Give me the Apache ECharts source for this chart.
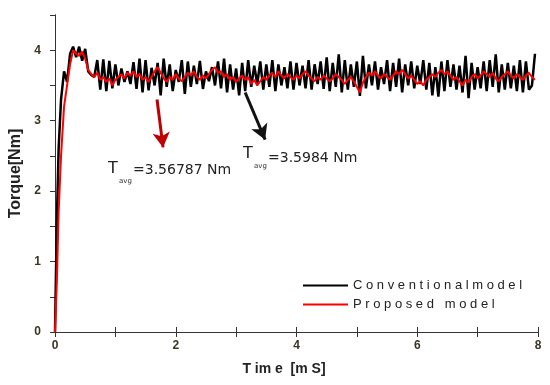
<!DOCTYPE html>
<html><head><meta charset="utf-8">
<script src="https://cdn.jsdelivr.net/npm/echarts@6/dist/echarts.min.js"></script>
<style>html,body{margin:0;padding:0;background:#fff}#c{width:550px;height:385px}</style>
</head><body><div id="c"></div>
<script>
const time = [0, 0.03, 0.06, 0.1, 0.15, 0.2, 0.25, 0.3, 0.35, 0.4, 0.45, 0.5, 0.55,
 0.6,0.65,0.7,0.75,0.8,0.85,0.9,0.95,1.0,1.05,1.1,1.15,1.2,1.25,1.3,1.35,1.4,1.45,1.5,1.55,
 1.6,1.65,1.7,1.75,1.8,1.85,1.9,1.95,2.0,2.05,2.1,2.15,2.2,2.25,2.3,2.35,2.4,2.45,2.5,2.55,
 2.6,2.65,2.7,2.75,2.8,2.85,2.9,2.95,3.0,3.05,3.1,3.15,3.2,3.25,3.3,3.35,3.4,3.45,3.5,3.55,
 3.6,3.65,3.7,3.75,3.8,3.85,3.9,3.95,4.0,4.05,4.1,4.15,4.2,4.25,4.3,4.35,4.4,4.45,4.5,4.55,
 4.6,4.65,4.7,4.75,4.8,4.85,4.9,4.95,5.0,5.05,5.1,5.15,5.2,5.25,5.3,5.35,5.4,5.45,5.5,5.55,
 5.6,5.65,5.7,5.75,5.8,5.85,5.9,5.95,6.0,6.05,6.1,6.15,6.2,6.25,6.3,6.35,6.4,6.45,6.5,6.55,
 6.6,6.65,6.7,6.75,6.8,6.85,6.9,6.95,7.0,7.05,7.1,7.15,7.2,7.25,7.3,7.35,7.4,7.45,7.5,7.55,
 7.6,7.65,7.7,7.75,7.8,7.85,7.9,7.95];

const conventional = [0, 1.55, 2.6, 3.3, 3.7, 3.55, 3.95, 4.05, 3.9, 4.05, 3.85, 4.02, 3.7,
 3.65,3.62,
 3.86,3.44, 3.87,3.42, 3.85,3.46, 3.80,3.50, 3.74,3.55, 3.70,3.52, 3.83,3.45, 3.88,3.40, 3.86,3.43,
 3.75,3.50, 3.82,3.36, 3.88,3.48, 3.80,3.42, 3.72,3.55, 3.86,3.38, 3.84,3.48, 3.78,3.52, 3.85,3.45,
 3.70,3.56, 3.76,3.50, 3.84,3.46, 3.88,3.40, 3.80,3.44, 3.74,3.36, 3.82,3.42, 3.86,3.48, 3.78,3.52,
 3.84,3.44, 3.80,3.48, 3.86,3.42, 3.80,3.50, 3.76,3.46, 3.84,3.44, 3.82,3.50, 3.78,3.46, 3.86,3.44,
 3.80,3.52, 3.84,3.45, 3.90,3.42, 3.82,3.48, 3.94,3.40, 3.86,3.44, 3.80,3.48, 3.84,3.35, 3.92,3.46,
 3.80,3.50, 3.84,3.44, 3.76,3.52, 3.86,3.42, 3.82,3.48, 3.88,3.40, 3.80,3.50, 3.84,3.46, 3.78,3.52,
 3.86,3.44, 3.82,3.36, 3.76,3.34, 3.84,3.42, 3.86,3.48, 3.80,3.44, 3.78,3.40, 3.92,3.32, 3.82,3.44,
 3.76,3.46, 3.84,3.42, 3.86,3.48, 3.94,3.40, 3.80,3.44, 3.82,3.46, 3.78,3.42, 3.86,3.40, 3.84,3.44,
 3.50,3.95];

const proposed = [0, 0.7, 1.7, 2.5, 3.2, 3.5, 3.8, 4.0, 3.95, 3.92, 3.98, 3.88, 3.72,
 3.66,3.62,3.68,3.58,3.62,3.55,3.60,3.50,3.58,3.62,
 3.66,3.60,3.68,3.64,3.70,3.62,3.66,3.58,3.62,3.55,
 3.62,3.70,3.76,3.68,3.60,3.55,3.62,3.58,3.66,3.60,
 3.56,3.62,3.68,3.64,3.70,3.62,3.58,3.64,3.60,3.66,
 3.72,3.76,3.68,3.70,3.62,3.66,3.58,3.62,3.55,3.60,
 3.64,3.58,3.62,3.52,3.58,3.50,3.56,3.62,3.58,3.64,
 3.68,3.62,3.70,3.64,3.60,3.66,3.62,3.58,3.64,3.60,
 3.66,3.70,3.64,3.60,3.56,3.62,3.58,3.64,3.60,3.56,
 3.60,3.66,3.62,3.58,3.52,3.58,3.62,3.56,3.48,3.40,
 3.54,3.62,3.68,3.64,3.70,3.64,3.60,3.66,3.62,3.58,
 3.64,3.70,3.66,3.72,3.66,3.60,3.64,3.58,3.52,3.56,
 3.50,3.58,3.62,3.66,3.62,3.68,3.72,3.66,3.70,3.64,
 3.58,3.62,3.56,3.50,3.58,3.54,3.62,3.66,3.60,3.64,
 3.70,3.66,3.62,3.68,3.60,3.56,3.62,3.66,3.70,3.64,
 3.60,3.66,3.62,3.58,3.64,3.68,3.62,3.58];

const xTicks = [0, 2, 4, 6, 8];
const yTicks = [0, 1, 2, 3, 4];
const seriesNames = ['C o n v e n t i o n a l m o d e l', 'P r o p o s e d   m o d e l'];
const annotations = [
  {value: '=3.56787 Nm', color: '#c00000', from: [1.69, 3.30], to: [1.79, 2.62]},
  {value: '=3.5984 Nm', color: '#111111', from: [3.15, 3.40], to: [3.48, 2.73]}
];

const chart = echarts.init(document.getElementById('c'), null, {renderer: 'canvas'});
const pairs = vals => time.map((t, i) => [t, vals[i]]);
const labelFont = {fontFamily: 'Liberation Sans', fontWeight: 'bold', fontSize: 12, color: '#3a3525'};
const axisLine = {show: true, lineStyle: {color: '#333', width: 1}};

function arrowLine(a) {
  return {
    silent: true, symbol: ['none', 'arrow'], symbolSize: [13, 15],
    label: {show: false},
    lineStyle: {color: a.color, width: 3, type: 'solid'},
    data: [[{coord: a.from}, {coord: a.to}]]
  };
}

chart.setOption({
  animation: false,
  grid: {left: 55, right: 12, top: 15, bottom: 53, containLabel: false, outerBoundsMode: 'none'},
  xAxis: [{
    type: 'value', min: 0, max: 8, interval: 1,
    name: 'T im e  [m S]', nameLocation: 'middle', nameGap: 30,
    nameTextStyle: {fontFamily: 'Liberation Sans', fontWeight: 'bold', fontSize: 14, color: '#222', padding: [0, 25, 0, 0]},
    axisLine: axisLine, axisTick: {show: true, length: 5, lineStyle: {color: '#333'}},
    axisLabel: Object.assign({margin: 8, formatter: v => xTicks.includes(v) ? String(v) : ''}, labelFont),
    splitLine: {show: false}
  }, {
    type: 'value', min: 0, max: 8, interval: 1, position: 'top',
    axisLine: axisLine, axisTick: {show: true, length: 5, lineStyle: {color: '#333'}},
    axisLabel: {show: false}, splitLine: {show: false}
  }],
  yAxis: [{
    type: 'value', min: 0, max: 4.5, interval: 0.5,
    name: 'Torque[Nm]', nameLocation: 'middle', nameGap: 30, nameRotate: 90,
    nameTextStyle: {fontFamily: 'Liberation Sans', fontWeight: 'bold', fontSize: 16, color: '#222'},
    axisLine: axisLine, axisTick: {show: true, length: 5, lineStyle: {color: '#333'}},
    axisLabel: Object.assign({margin: 14, formatter: v => yTicks.includes(v) ? String(v) : ''}, labelFont),
    splitLine: {show: false}
  }, {
    type: 'value', min: 0, max: 4.5, interval: 0.5, position: 'right',
    axisLine: axisLine, axisTick: {show: false}, axisLabel: {show: false}, splitLine: {show: false}
  }],
  legend: {
    orient: 'vertical', left: 298, top: 274, itemWidth: 45, itemHeight: 2, itemGap: 6,
    icon: 'rect',
    textStyle: {fontFamily: 'Liberation Sans', fontSize: 13, color: '#222'},
    data: seriesNames
  },
  series: [{
    name: seriesNames[0], type: 'line', data: pairs(conventional), showSymbol: false,
    lineStyle: {color: '#000', width: 2.5}, itemStyle: {color: '#000'},
    markLine: arrowLine(annotations[1]), z: 2
  }, {
    name: seriesNames[1], type: 'line', data: pairs(proposed), showSymbol: false,
    lineStyle: {color: '#ff0000', width: 2}, itemStyle: {color: '#ff0000'},
    markLine: arrowLine(annotations[0]), z: 3
  }],
  graphic: [
    {type: 'text', left: 108, top: 161, style: {text: 'T', font: '16px "DejaVu Sans"', fill: '#222'}},
    {type: 'text', left: 119, top: 178, style: {text: 'avg', font: '7px "DejaVu Sans"', fill: '#333'}},
    {type: 'text', left: 133, top: 163, style: {text: annotations[0].value, font: '14px "DejaVu Sans"', fill: '#222'}},
    {type: 'text', left: 243, top: 146, style: {text: 'T', font: '16px "DejaVu Sans"', fill: '#222'}},
    {type: 'text', left: 254, top: 163, style: {text: 'avg', font: '7px "DejaVu Sans"', fill: '#333'}},
    {type: 'text', left: 268, top: 151, style: {text: annotations[1].value, font: '14px "DejaVu Sans"', fill: '#222'}}
  ]
});
</script></body></html>
